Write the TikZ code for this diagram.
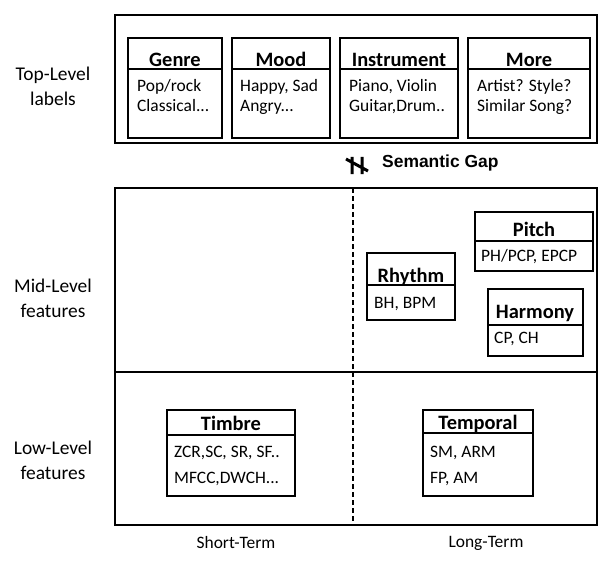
\documentclass[tikz,border=0pt]{standalone}
\usepackage{fontspec}
\setmainfont{Carlito}
\newfontfamily\gapfont{Liberation Sans}
\tikzset{
  frame/.style={line width=2.6bp},
  featbox/.style={line width=1.8bp},
  boxtitle/.style={anchor=base, inner sep=0pt, font=\fontsize{20.5}{24}\selectfont\bfseries},
  boxentry/.style={anchor=base west, inner sep=0pt, font=\fontsize{17.5}{20}\selectfont},
  sidelabel/.style={align=center, inner sep=0pt, font=\fontsize{19.5}{25}\selectfont},
  termlabel/.style={inner sep=0pt, font=\fontsize{17.5}{20}\selectfont},
  gaplabel/.style={anchor=base west, inner sep=0pt, font=\gapfont\bfseries\fontsize{17.5}{20}\selectfont}
}
\begin{document}
\begin{tikzpicture}[x=1bp, y=-1bp]
    \useasboundingbox (0,0) rectangle (600,568);

    % Side labels
    \node[sidelabel] (top) at (53,86) {Top-Level\\labels};
    \node[sidelabel] (mid) at (53,298) {Mid-Level\\features};
    \node[sidelabel] (low) at (53,460) {Low-Level\\features};

    % Top-level frame
    \draw[frame] (115,15) rectangle (597,143);

    % Genre
    \draw[featbox] (128,38) rectangle (222,138);
    \draw[featbox] (128,69) -- (222,69);
    \node[boxtitle] (genre) at (175,67) {Genre};
    \node[boxentry] (genre1) at (137,92) {Pop/rock};
    \node[boxentry] (genre2) at (137,112) {Classical...};

    % Mood
    \draw[featbox] (232,38) rectangle (330,138);
    \draw[featbox] (232,69) -- (330,69);
    \node[boxtitle] (mood) at (281,67) {Mood};
    \node[boxentry] (mood1) at (240,92) {Happy, Sad};
    \node[boxentry] (mood2) at (240,112) {Angry...};

    % Instrument
    \draw[featbox] (340,38) rectangle (458,138);
    \draw[featbox] (340,69) -- (458,69);
    \node[boxtitle] (instr) at (399,67) {Instrument};
    \node[boxentry] (instr1) at (349,92) {Piano, Violin};
    \node[boxentry] (instr2) at (349,112) {Guitar,Drum..};

    % More
    \draw[featbox] (468,38) rectangle (590,138);
    \draw[featbox] (468,69) -- (590,69);
    \node[boxtitle] (more) at (529,67) {More};
    \node[boxentry] (more1) at (477,92) {Artist? Style?};
    \node[boxentry] (more2) at (477,112) {Similar Song?};

    % Semantic gap
    \draw[line width=3bp] (352,157) -- (352,174) (362,157) -- (362,174) (346,159) -- (368,171);
    \node[gaplabel] (gap) at (382,168) {Semantic Gap};

    % Mid- and low-level frame
    \draw[frame] (115,188) rectangle (597,525);
    \draw[frame] (115,372) -- (597,372);
    \coordinate (split top) at (353,188);
    \coordinate (split bot) at (353,525);
    \draw[line width=1.6bp, dash pattern=on 5bp off 3bp] (split top) -- (split bot);

    % Pitch
    \draw[featbox] (475,212) rectangle (593,271);
    \draw[featbox] (475,241) -- (593,241);
    \node[boxtitle] (pitch) at (534,236) {Pitch};
    \node[boxentry] (pitch1) at (481,261) {PH/PCP, EPCP};

    % Rhythm
    \draw[featbox] (367,253) rectangle (455,320);
    \draw[featbox] (367,285) -- (455,285);
    \node[boxtitle] (rhythm) at (411,282) {Rhythm};
    \node[boxentry] (rhythm1) at (374,308) {BH, BPM};

    % Harmony
    \draw[featbox] (488,289) rectangle (583,356);
    \draw[featbox] (488,325) -- (583,325);
    \node[boxtitle] (harmony) at (535,318) {Harmony};
    \node[boxentry] (harmony1) at (494,343) {CP, CH};

    % Timbre
    \draw[featbox] (167,410) rectangle (295,496);
    \draw[featbox] (167,435) -- (295,435);
    \node[boxtitle] (timbre) at (231,430) {Timbre};
    \node[boxentry] (timbre1) at (174,457) {ZCR,SC, SR, SF..};
    \node[boxentry] (timbre2) at (174,483) {MFCC,DWCH...};

    % Temporal
    \draw[featbox] (423,410) rectangle (533,496);
    \draw[featbox] (423,433) -- (533,433);
    \node[boxtitle] (temporal) at (478,429) {Temporal};
    \node[boxentry] (temporal1) at (430,457) {SM, ARM};
    \node[boxentry] (temporal2) at (430,483) {FP, AM};

    % Time scale
    \node[termlabel] (short) at (236,543) {Short-Term};
    \node[termlabel] (long) at (486,543) {Long-Term};
\end{tikzpicture}
\end{document}
